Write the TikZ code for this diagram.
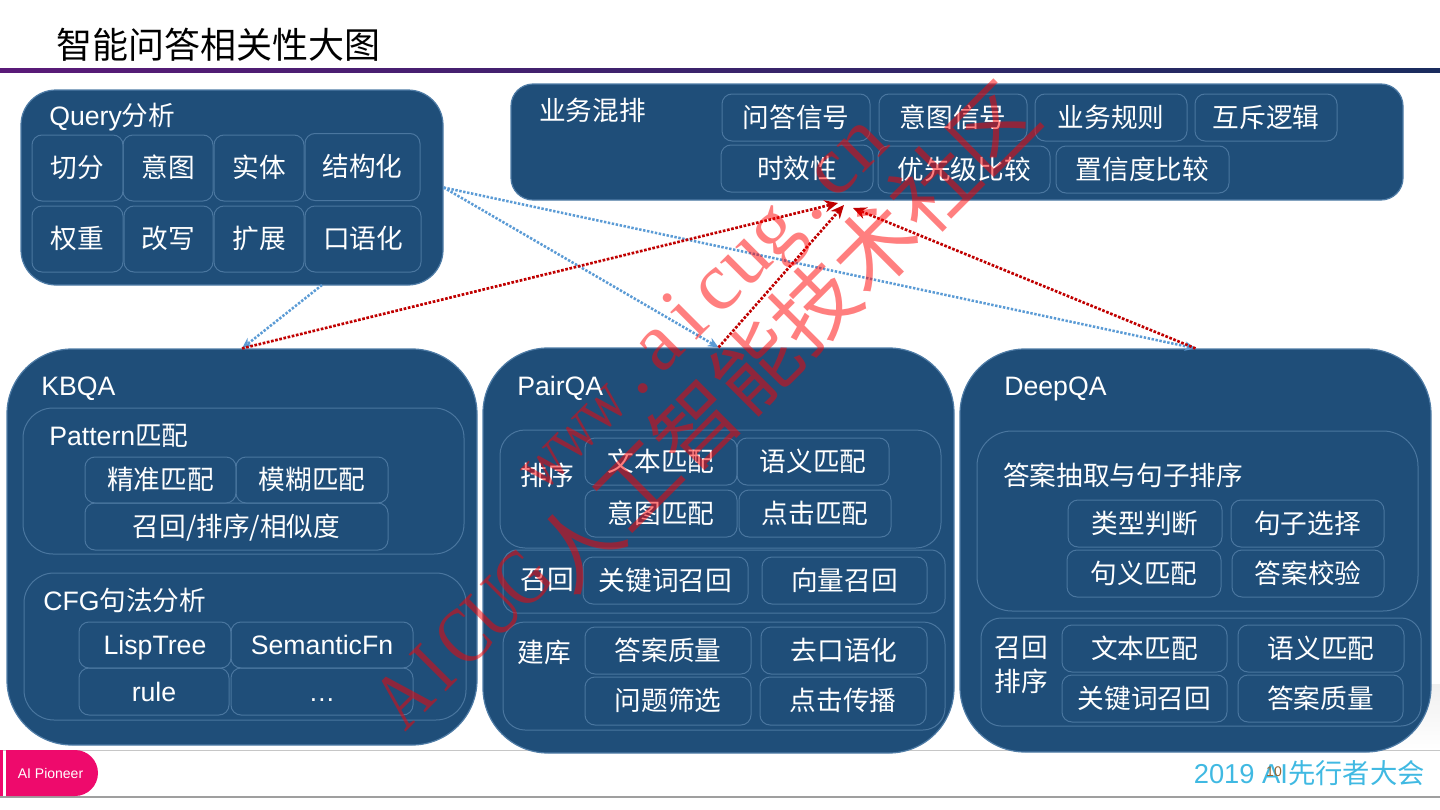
\documentclass[tikz,border=0pt]{standalone}
\usepackage{fontspec}
\setmainfont{Liberation Sans}
\newfontfamily\cjk{Noto Sans CJK SC}
\newfontfamily\wmserif[FakeStretch=0.8]{Liberation Serif}
\newfontfamily\wmplain{Liberation Serif}
\newcommand{\zh}[1]{{\cjk #1}}
\newcommand{\urlch}[1]{\makebox[30.75pt]{#1}}
\newcommand{\namech}[1]{\makebox[31.5pt]{#1}}
\usetikzlibrary{shapes.misc, arrows.meta, positioning}
\definecolor{panelblue}{HTML}{1F4E79}
\definecolor{panelline}{HTML}{4F7CA6}
\definecolor{cellline}{HTML}{4A769F}
\definecolor{pioneerpink}{HTML}{EE0A6C}
\definecolor{askblue}{HTML}{5B9BD5}
\definecolor{backred}{HTML}{C00000}
\definecolor{barleft}{HTML}{5A1A78}
\definecolor{barright}{HTML}{1A2C5E}
\tikzset{
    panel/.style n args={3}{draw=panelline, line width=0.9pt, fill=panelblue, inner sep=0pt, text=white,
        minimum width=#1*0.75pt, minimum height=#2*0.75pt, rounded corners=#3*0.75pt},
    subpanel/.style n args={3}{draw=cellline, line width=0.75pt, inner sep=0pt,
        minimum width=#1*0.75pt, minimum height=#2*0.75pt, rounded corners=#3*0.75pt},
    cell/.style 2 args={draw=cellline, line width=0.75pt, inner sep=0pt, text=white, font=\fontsize{20}{24}\selectfont,
        text height=17pt, text depth=2.6pt,
        minimum width=#1*0.75pt, minimum height=#2*0.75pt, rounded corners=7.5pt},
    tag/.style={anchor=west, inner sep=0pt, text=white, font=\fontsize{20}{24}\selectfont, text height=17pt, text depth=2.6pt},
    sidetag/.style={inner sep=0pt, text=white, font=\fontsize{20}{24}\selectfont, align=center},
    ask/.style={-{Stealth[length=8pt,width=7pt]}, askblue, line width=1.9pt, dash pattern=on 1.8pt off 1.2pt},
    back/.style={-{Stealth[length=10pt,width=9pt]}, backred, line width=2pt, dash pattern=on 2pt off 1.2pt},
    stamp/.style={rotate=45, inner sep=0pt, text=red, text opacity=0.5}
}

\begin{document}
\begin{tikzpicture}[x=0.75pt, y=-0.75pt]
    \useasboundingbox (0,0) rectangle (1440,810);

    % slide furniture
    \shade [top color=gray!12, middle color=gray!38, bottom color=white] (1400,684) rectangle (1440,750);
    \draw [gray!45, line width=0.8pt] (0,750.5) -- (1440,750.5);
    \draw [gray!75, line width=1.6pt] (0,797) -- (1440,797);
    \shade [left color=barleft, right color=barright] (0,68) rectangle (1440,72);
    \node (title) [anchor=west, inner sep=0pt, text=black, font=\fontsize{27}{32}\selectfont\cjk] at (56,45) {智能问答相关性大图};

    % Query panel
    \node (query) [panel={422}{195}{35}] at (232,187.5) {};
    \node (queryTag) [tag] at (49,116) {Query\zh{分析}};
    \node (qCut) [cell={91}{66}] at (77.5,168) {\zh{切分}};
    \node (qIntent) [cell={90}{66}] at (168,168) {\zh{意图}};
    \node (qEntity) [cell={90}{66}] at (259,168) {\zh{实体}};
    \node (qStruct) [cell={115}{67}] at (362.5,167) {\zh{结构化}};
    \node (qWeight) [cell={91}{66}] at (77.5,239) {\zh{权重}};
    \node (qRewrite) [cell={89}{66}] at (168.5,239) {\zh{改写}};
    \node (qExpand) [cell={90}{66}] at (259,239) {\zh{扩展}};
    \node (qSpoken) [cell={116}{66}] at (363,239) {\zh{口语化}};

    % ranking panel
    \node (biz) [panel={892}{116}{22}] at (957,142) {};
    \node (bizTag) [tag] at (539,111) {\zh{业务混排}};
    \node (bAnswer) [cell={148}{47}] at (796,117.5) {\zh{问答信号}};
    \node (bIntent) [cell={148}{47}] at (953,117.5) {\zh{意图信号}};
    \node (bRule) [cell={152}{47}] at (1111,117.5) {\zh{业务规则}};
    \node (bMutex) [cell={142}{47}] at (1266,117.5) {\zh{互斥逻辑}};
    \node (bFresh) [cell={152}{47}] at (797,168.5) {\zh{时效性}};
    \node (bPrior) [cell={172}{47}] at (964,169.5) {\zh{优先级比较}};
    \node (bConf) [cell={173}{47}] at (1142.5,169.5) {\zh{置信度比较}};

    % KBQA panel
    \node (kbqa) [panel={470}{396}{65}] at (242,547) {};
    \node (kbqaTag) [tag] at (41,386) {KBQA};
    \node (patternBox) [subpanel={441}{146}{30}] at (243.5,481) {};
    \node (patternTag) [tag] at (49,436) {Pattern\zh{匹配}};
    \node (kExact) [cell={151}{46}] at (160.5,480) {\zh{精准匹配}};
    \node (kFuzzy) [cell={152}{46}] at (312,480) {\zh{模糊匹配}};
    \node (kRecall) [cell={303}{47}] at (236.5,526.5) {\zh{召回/排序/相似度}};
    \node (cfgBox) [subpanel={442}{147}{30}] at (245,646.5) {};
    \node (cfgTag) [tag] at (43,601) {CFG\zh{句法分析}};
    \node (kLisp) [cell={152}{46}] at (155,645) {LispTree};
    \node (kSem) [cell={182}{46}] at (322,645) {SemanticFn};
    \node (kRule) [cell={150}{47}] at (154,691.5) {rule};
    \node (kMore) [cell={182}{47}] at (322,691.5) {…};

    % PairQA panel
    \node (pairqa) [panel={471}{405}{65}] at (718.5,550.5) {};
    \node (pairqaTag) [tag] at (517,386) {PairQA};
    \node (rankBox) [subpanel={441}{118}{25}] at (720.5,489) {};
    \node (recallBox) [subpanel={442}{63}{14}] at (724,581.5) {};
    \node (buildBox) [subpanel={442}{108}{22}] at (724,676) {};
    \node (rankTag) [sidetag] at (547,475) {\zh{排序}};
    \node (recallTag) [sidetag] at (547,580) {\zh{召回}};
    \node (buildTag) [sidetag] at (544,652) {\zh{建库}};
    \node (pText) [cell={152}{47}] at (661,461.5) {\zh{文本匹配}};
    \node (pSense) [cell={152}{47}] at (813,461.5) {\zh{语义匹配}};
    \node (pIntent) [cell={152}{47}] at (661,513.5) {\zh{意图匹配}};
    \node (pClick) [cell={152}{47}] at (815,513.5) {\zh{点击匹配}};
    \node (pKey) [cell={165}{47}] at (665.5,580.5) {\zh{关键词召回}};
    \node (pVector) [cell={165}{47}] at (844.5,580.5) {\zh{向量召回}};
    \node (pQuality) [cell={166}{47}] at (668,650.5) {\zh{答案质量}};
    \node (pSpoken) [cell={166}{47}] at (844,650.5) {\zh{去口语化}};
    \node (pFilter) [cell={166}{48}] at (668,701) {\zh{问题筛选}};
    \node (pSpread) [cell={166}{48}] at (843,701) {\zh{点击传播}};

    % DeepQA panel
    \node (deepqa) [panel={471}{403}{65}] at (1195.5,550.5) {};
    \node (deepqaTag) [tag] at (1004,386) {DeepQA};
    \node (extractBox) [subpanel={441}{180}{35}] at (1197.5,521) {};
    \node (extractTag) [tag] at (1003,476) {\zh{答案抽取与句子排序}};
    \node (sortBox) [subpanel={440}{108}{20}] at (1201,672) {};
    \node (sortTag) [sidetag, font=\fontsize{20}{25}\selectfont] at (1021,665) {\zh{召回}\\\zh{排序}};
    \node (dType) [cell={154}{47}] at (1145,523.5) {\zh{类型判断}};
    \node (dChoose) [cell={153}{47}] at (1307.5,523.5) {\zh{句子选择}};
    \node (dSense) [cell={154}{47}] at (1144,573.5) {\zh{句义匹配}};
    \node (dCheck) [cell={152}{47}] at (1308,573.5) {\zh{答案校验}};
    \node (dText) [cell={165}{47}] at (1144.5,648.5) {\zh{文本匹配}};
    \node (dMatch) [cell={166}{47}] at (1321,648.5) {\zh{语义匹配}};
    \node (dKey) [cell={165}{47}] at (1144.5,698.5) {\zh{关键词召回}};
    \node (dQuality) [cell={165}{47}] at (1320.5,698.5) {\zh{答案质量}};

    % connectors
    \coordinate (queryOut) at (322,285);
    \coordinate (bizInA) at (838,203);
    \coordinate (bizInB) at (844,205);
    \coordinate (bizInC) at (853,208);
    \draw [ask] (queryOut) -- (kbqa.north);
    \draw [ask] (query.east) -- (pairqa.north);
    \draw [ask] (query.east) -- (deepqa.north);
    \draw [back] (kbqa.north) -- (bizInA);
    \draw [back] (pairqa.north) -- (bizInB);
    \draw [back] (deepqa.north) -- (bizInC);

    % footer
    \fill [pioneerpink] (0,750) rectangle (3,796);
    \node (pioneer) [rounded rectangle, rounded rectangle left arc=none, fill=pioneerpink, inner sep=0pt, minimum width=69pt, minimum height=34.5pt, text=white, font=\fontsize{10.5}{12}\selectfont] at (52,773) {};
    \node (pioneerTag) [inner sep=0pt, text=white, font=\fontsize{10.5}{12}\selectfont] at (50.5,773) {AI Pioneer};
    \node (confTag) [anchor=east, inner sep=0pt, text=askblue!70!cyan, font=\fontsize{20.5}{24}\selectfont] at (1425,773) {2019 AI\zh{先行者大会}};
    \node (pageNo) [inner sep=0pt, text=brown!80!black, font=\fontsize{10.5}{12}\selectfont] at (1274,772) {10};

    % stamp over everything
    \node (stampUrl) [stamp, font=\fontsize{62}{72}\selectfont\wmplain] at (705,306) {{\fontsize{54}{72}\selectfont\wmserif\urlch{w}\urlch{w}\urlch{w}}\urlch{.}\urlch{a}\urlch{i}\urlch{c}\urlch{u}\urlch{g}\urlch{.}\urlch{c}\urlch{n}};
    \node (stampName) [stamp, font=\fontsize{60}{70}\selectfont\wmserif] at (710,409.6) {\raisebox{15pt}{\namech{A}\namech{I}\namech{C}\namech{U}\namech{G}}{\fontsize{63}{70}\selectfont\cjk 人工智能技术社区}};
\end{tikzpicture}
\end{document}
